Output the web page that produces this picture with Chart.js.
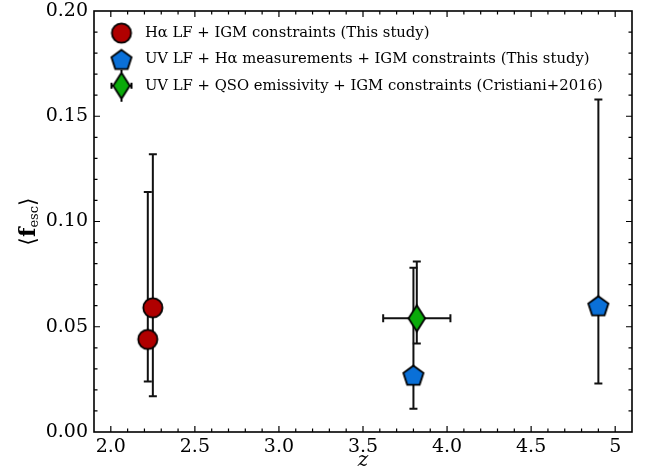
<!DOCTYPE html>
<html>
<head>
<meta charset="utf-8">
<script src="https://cdn.jsdelivr.net/npm/chart.js@4"></script>
<style>
  body { margin: 0; background: #fff; }
  canvas { display: block; }
</style>
</head>
<body>
<canvas id="fescChart" width="649" height="475"></canvas>
<script>
// Data
const seriesLabels = [
  'H\u03b1 LF + IGM constraints (This study)',
  'UV LF + H\u03b1 measurements + IGM constraints (This study)',
  'UV LF + QSO emissivity + IGM constraints (Cristiani+2016)'
];
const haZ = [2.22, 2.25];
const haF = [0.044, 0.059];
const haLo = [0.024, 0.017];
const haHi = [0.114, 0.132];

const uvZ = [3.80, 4.90];
const uvF = [0.027, 0.060];
const uvLo = [0.011, 0.023];
const uvHi = [0.078, 0.158];

const qsoZ = [3.82];
const qsoZLo = [3.62];
const qsoZHi = [4.02];
const qsoF = [0.054];
const qsoLo = [0.042];
const qsoHi = [0.081];

const xTicks = [2.0, 2.5, 3.0, 3.5, 4.0, 4.5, 5.0];
const yTicks = [0, 0.05, 0.10, 0.15, 0.20];

const serif = '"DejaVu Serif", "Liberation Serif", serif';

// marker images
function marker(w, h, draw) {
  const c = document.createElement('canvas');
  c.width = w; c.height = h;
  const g = c.getContext('2d');
  g.lineWidth = 1.8;
  g.lineJoin = 'miter';
  g.strokeStyle = '#000';
  draw(g, w / 2, h / 2);
  return c;
}
function pentagonPath(g, cx, cy, r) {
  g.beginPath();
  for (let k = 0; k < 5; k++) {
    const a = -Math.PI / 2 + k * 2 * Math.PI / 5;
    const px = cx + r * Math.cos(a), py = cy + r * Math.sin(a);
    k === 0 ? g.moveTo(px, py) : g.lineTo(px, py);
  }
  g.closePath();
}
function diamondPath(g, cx, cy) {
  g.beginPath();
  g.moveTo(cx, cy - 13);
  g.lineTo(cx + 8.3, cy);
  g.lineTo(cx, cy + 13);
  g.lineTo(cx - 8.3, cy);
  g.closePath();
}

const circleImg = marker(24, 24, (g, cx, cy) => {
  g.beginPath();
  g.arc(cx, cy, 9.6, 0, Math.PI * 2);
  g.fillStyle = '#b00000';
  g.fill(); g.stroke();
});
const pentagonImg = marker(28, 28, (g, cx, cy) => {
  pentagonPath(g, cx, cy + 1, 10.6);
  g.fillStyle = '#0a70d8';
  g.fill(); g.stroke();
});
const diamondImg = marker(22, 32, (g, cx, cy) => {
  diamondPath(g, cx, cy);
  g.fillStyle = '#0aaa0a';
  g.fill(); g.stroke();
});
// legend version carries the error bar stubs
const diamondLegendImg = marker(24, 34, (g, cx, cy) => {
  g.lineWidth = 2;
  g.beginPath();
  g.moveTo(cx - 10, cy); g.lineTo(cx + 10, cy);
  g.moveTo(cx - 10, cy - 3); g.lineTo(cx - 10, cy + 3);
  g.moveTo(cx + 10, cy - 3); g.lineTo(cx + 10, cy + 3);
  g.moveTo(cx, cy - 16); g.lineTo(cx, cy + 16);
  g.stroke();
  g.lineWidth = 1.8;
  diamondPath(g, cx, cy);
  g.fillStyle = '#0aaa0a';
  g.fill(); g.stroke();
});

// error bars, drawn under the markers
const errorBars = {
  id: 'errorBars',
  beforeDatasetsDraw(chart) {
    const { ctx, scales: { x, y } } = chart;
    ctx.save();
    ctx.strokeStyle = '#111';
    ctx.lineWidth = 2;
    const cap = 4;
    chart.data.datasets.forEach(ds => {
      ds.data.forEach(p => {
        const px = x.getPixelForValue(p.x);
        const y0 = y.getPixelForValue(p.yMin), y1 = y.getPixelForValue(p.yMax);
        ctx.beginPath();
        ctx.moveTo(px, y0); ctx.lineTo(px, y1);
        ctx.moveTo(px - cap, y0); ctx.lineTo(px + cap, y0);
        ctx.moveTo(px - cap, y1); ctx.lineTo(px + cap, y1);
        if (p.xMin !== undefined) {
          const py = y.getPixelForValue(p.y);
          const x0 = x.getPixelForValue(p.xMin), x1 = x.getPixelForValue(p.xMax);
          ctx.moveTo(x0, py); ctx.lineTo(x1, py);
          ctx.moveTo(x0, py - cap); ctx.lineTo(x0, py + cap);
          ctx.moveTo(x1, py - cap); ctx.lineTo(x1, py + cap);
        }
        ctx.stroke();
      });
    });
    ctx.restore();
  }
};

// box frame with inward ticks on all four sides
const frame = {
  id: 'frame',
  afterDatasetsDraw(chart) {
    const { ctx, chartArea: { left, right, top, bottom }, scales: { x, y } } = chart;
    ctx.save();
    ctx.strokeStyle = '#000';
    ctx.lineWidth = 1.2;
    ctx.beginPath();
    for (let i = 19; i <= 51; i++) {
      const px = x.getPixelForValue(i / 10);
      if (px <= left + 1 || px >= right - 1) continue;
      const len = i % 5 === 0 ? 6 : 3.5;
      ctx.moveTo(px, bottom); ctx.lineTo(px, bottom - len);
      ctx.moveTo(px, top); ctx.lineTo(px, top + len);
    }
    for (let i = 0; i <= 20; i++) {
      const py = y.getPixelForValue(i / 100);
      if (py <= top + 1 || py >= bottom - 1) continue;
      const len = i % 5 === 0 ? 6 : 3.5;
      ctx.moveTo(left, py); ctx.lineTo(left + len, py);
      ctx.moveTo(right, py); ctx.lineTo(right - len, py);
    }
    ctx.stroke();
    ctx.lineWidth = 1.6;
    ctx.strokeRect(left, top, right - left, bottom - top);
    ctx.restore();
  }
};

// y axis title <f_esc> with a real subscript
const yTitle = {
  id: 'yTitle',
  afterDraw(chart) {
    const { ctx, chartArea } = chart;
    const big = '22px ' + serif, bold = 'bold 22px ' + serif, small = '13px ' + serif;
    ctx.save();
    ctx.translate(35, (chartArea.top + chartArea.bottom) / 2);
    ctx.rotate(-Math.PI / 2);
    ctx.fillStyle = '#000';
    ctx.textBaseline = 'alphabetic';
    ctx.textAlign = 'left';
    const parts = [['\u27e8', big, 0], ['f', bold, 0], ['esc', small, 3], ['\u27e9', big, 0]];
    let total = 0;
    parts.forEach(p => { ctx.font = p[1]; p.push(ctx.measureText(p[0]).width); total += p[3]; });
    let cx = -total / 2;
    parts.forEach(p => { ctx.font = p[1]; ctx.fillText(p[0], cx, p[2]); cx += p[3]; });
    ctx.restore();
  }
};

const ctx = document.getElementById('fescChart').getContext('2d');
const fescChart = new Chart(ctx, {
  type: 'scatter',
  data: {
    datasets: [{
      label: seriesLabels[0],
      data: haZ.map((z, i) => ({ x: z, y: haF[i], yMin: haLo[i], yMax: haHi[i] })),
      pointStyle: circleImg,
      pointRadius: 10
    }, {
      label: seriesLabels[1],
      data: uvZ.map((z, i) => ({ x: z, y: uvF[i], yMin: uvLo[i], yMax: uvHi[i] })),
      pointStyle: pentagonImg,
      pointRadius: 10
    }, {
      label: seriesLabels[2],
      data: qsoZ.map((z, i) => ({ x: z, y: qsoF[i], yMin: qsoLo[i], yMax: qsoHi[i], xMin: qsoZLo[i], xMax: qsoZHi[i] })),
      pointStyle: diamondImg,
      pointRadius: 10
    }]
  },
  options: {
    responsive: false,
    animation: false,
    events: [],
    layout: { padding: { left: 0, right: 17, top: 10.5, bottom: 0 } },
    scales: {
      x: {
        type: 'linear',
        min: 1.9,
        max: 5.1,
        afterBuildTicks: s => { s.ticks = xTicks.map(v => ({ value: v })); },
        afterFit: s => { s.height = 43; s.paddingLeft = 0; s.paddingRight = 0; },
        grid: { display: false, drawTicks: false },
        border: { display: false },
        ticks: {
          padding: 4,
          color: '#000',
          font: { family: serif, size: 19 },
          maxRotation: 0,
          callback: v => (v === 5 ? '5' : v.toFixed(1))
        },
        title: {
          display: true,
          text: 'z',
          color: '#000',
          font: { family: serif, size: 20, style: 'italic' },
          padding: { top: 0, bottom: 2 }
        }
      },
      y: {
        type: 'linear',
        min: 0,
        max: 0.2,
        afterBuildTicks: s => { s.ticks = yTicks.map(v => ({ value: v })); },
        afterFit: s => { s.width = 94; s.paddingTop = 0; s.paddingBottom = 0; },
        grid: { display: false, drawTicks: false },
        border: { display: false },
        ticks: {
          padding: 6,
          color: '#000',
          font: { family: serif, size: 19 },
          callback: v => v.toFixed(2)
        }
      }
    },
    plugins: {
      tooltip: { enabled: false },
      legend: {
        position: 'chartArea',
        align: 'start',
        // empty title only pushes the rows down from the canvas top
        title: { display: true, text: '', padding: { top: 13, bottom: 0 }, font: { size: 1 } },
        labels: {
          usePointStyle: true,
          pointStyleWidth: 32,
          padding: 11.5,
          color: '#000',
          font: { family: serif, size: 14.8 },
          generateLabels: chart => {
            const items = Chart.defaults.plugins.legend.labels.generateLabels(chart);
            items[2].pointStyle = diamondLegendImg;
            return items;
          }
        }
      }
    }
  },
  plugins: [errorBars, frame, yTitle]
});
</script>
</body>
</html>
